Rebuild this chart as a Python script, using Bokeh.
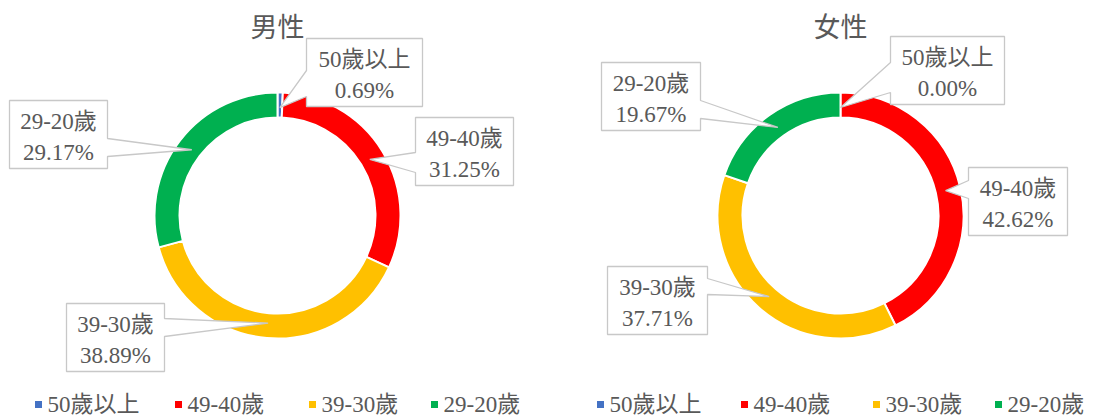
import math
from bokeh.plotting import figure
from bokeh.models import Range1d, ColumnDataSource
from bokeh.core.properties import value
from bokeh.embed import file_html
from bokeh.resources import INLINE

# ---- data ----
categories = ["50歲以上", "49-40歲", "39-30歲", "29-20歲"]
male = [0.69, 31.25, 38.89, 29.17]
female = [0.00, 42.62, 37.71, 19.67]
colors = ["#4472C4", "#FF0000", "#FFC000", "#00B050"]
titles = ["男性", "女性"]

# ---- layout (reference pixel coordinates) ----
W, H = 1094, 419
FONT = "'Liberation Serif', 'Noto Sans CJK TC', serif"
TXT = "#595959"
centers = [(277, 215), (840, 215)]
R_OUT, R_IN = 123, 98
TIP_R = 108

# callout boxes per chart, in category order: (x0, y0, x1, y1, side, base0, base1)
boxes = [
    [(306, 38, 422, 106, "left", 70, 96),
     (415, 117, 513, 185, "left", 152, 172),
     (66, 303, 164, 371, "right", 318, 336),
     (9, 100, 107, 168, "right", 138, 156)],
    [(890, 36, 1004, 104, "left", 62, 92),
     (968, 167, 1067, 235, "left", 180, 198),
     (607, 266, 707, 334, "right", 278, 294),
     (601, 62, 700, 130, "right", 100, 118)],
]
legend_x = [[38, 178, 312, 434], [600, 744, 876, 998]]
legend_y = 404


def Y(y):
    return H - y


p = figure(width=W, height=H, x_range=Range1d(0, W), y_range=Range1d(0, H),
           output_backend="svg", toolbar_location=None, min_border=0)
p.axis.visible = False
p.grid.visible = False
p.outline_line_color = None
p.background_fill_color = "white"

for ci, vals in enumerate([male, female]):
    cx, cy = centers[ci]
    total = sum(vals)
    starts, ends, mids = [], [], []
    cum = 0.0
    for v in vals:
        a0 = math.pi / 2 - 2 * math.pi * cum / total
        cum += v
        a1 = math.pi / 2 - 2 * math.pi * cum / total
        starts.append(a0)
        ends.append(a1)
        mids.append((a0 + a1) / 2)
    src = ColumnDataSource(dict(x=[cx] * 4, y=[Y(cy)] * 4, s=starts, e=ends, c=colors))
    p.annular_wedge(x="x", y="y", inner_radius=R_IN, outer_radius=R_OUT,
                    inner_radius_units="screen", outer_radius_units="screen",
                    start_angle="s", end_angle="e", direction="clock",
                    fill_color="c", line_color="white", line_width=2, source=src)

    # callouts
    xs, ys = [], []
    tx1, ty1, l1, l2 = [], [], [], []
    for k, (x0, y0, x1, y1, side, b0, b1) in enumerate(boxes[ci]):
        tx = cx + TIP_R * math.cos(mids[k])
        ty = cy - TIP_R * math.sin(mids[k])
        if side == "right":
            px = [x0, x1, x1, tx, x1, x1, x0]
            py = [y0, y0, b0, ty, b1, y1, y1]
        else:
            px = [x0, x1, x1, x0, x0, tx, x0]
            py = [y0, y0, y1, y1, b1, ty, b0]
        xs.append(px)
        ys.append([Y(v) for v in py])
        tx1.append((x0 + x1) / 2)
        ty1.append(y0)
        l1.append(categories[k])
        l2.append(f"{vals[k]:.2f}%")
    p.patches(xs, ys, fill_color="white", line_color="#C8C8C8", line_width=1.3)
    p.text(x=tx1, y=[Y(t + 21) for t in ty1], text=l1, text_align="center",
           text_baseline="middle", text_font=value(FONT), text_font_size="23px", text_color=TXT)
    p.text(x=tx1, y=[Y(t + 52) for t in ty1], text=l2, text_align="center",
           text_baseline="middle", text_font=value(FONT), text_font_size="23px", text_color=TXT)

    # title
    p.text(x=[cx], y=[Y(27)], text=[titles[ci]], text_align="center", text_baseline="middle",
           text_font=value(FONT), text_font_size="27px", text_color=TXT)

    # legend
    p.scatter(x=legend_x[ci], y=[Y(legend_y)] * 4, marker="square", size=7,
              fill_color=colors, line_color=None)
    p.text(x=[lx + 9 for lx in legend_x[ci]], y=[Y(legend_y)] * 4, text=categories,
           text_align="left", text_baseline="middle", text_font=value(FONT),
           text_font_size="23px", text_color=TXT)

open("out.html", "w").write(file_html(p, INLINE))
